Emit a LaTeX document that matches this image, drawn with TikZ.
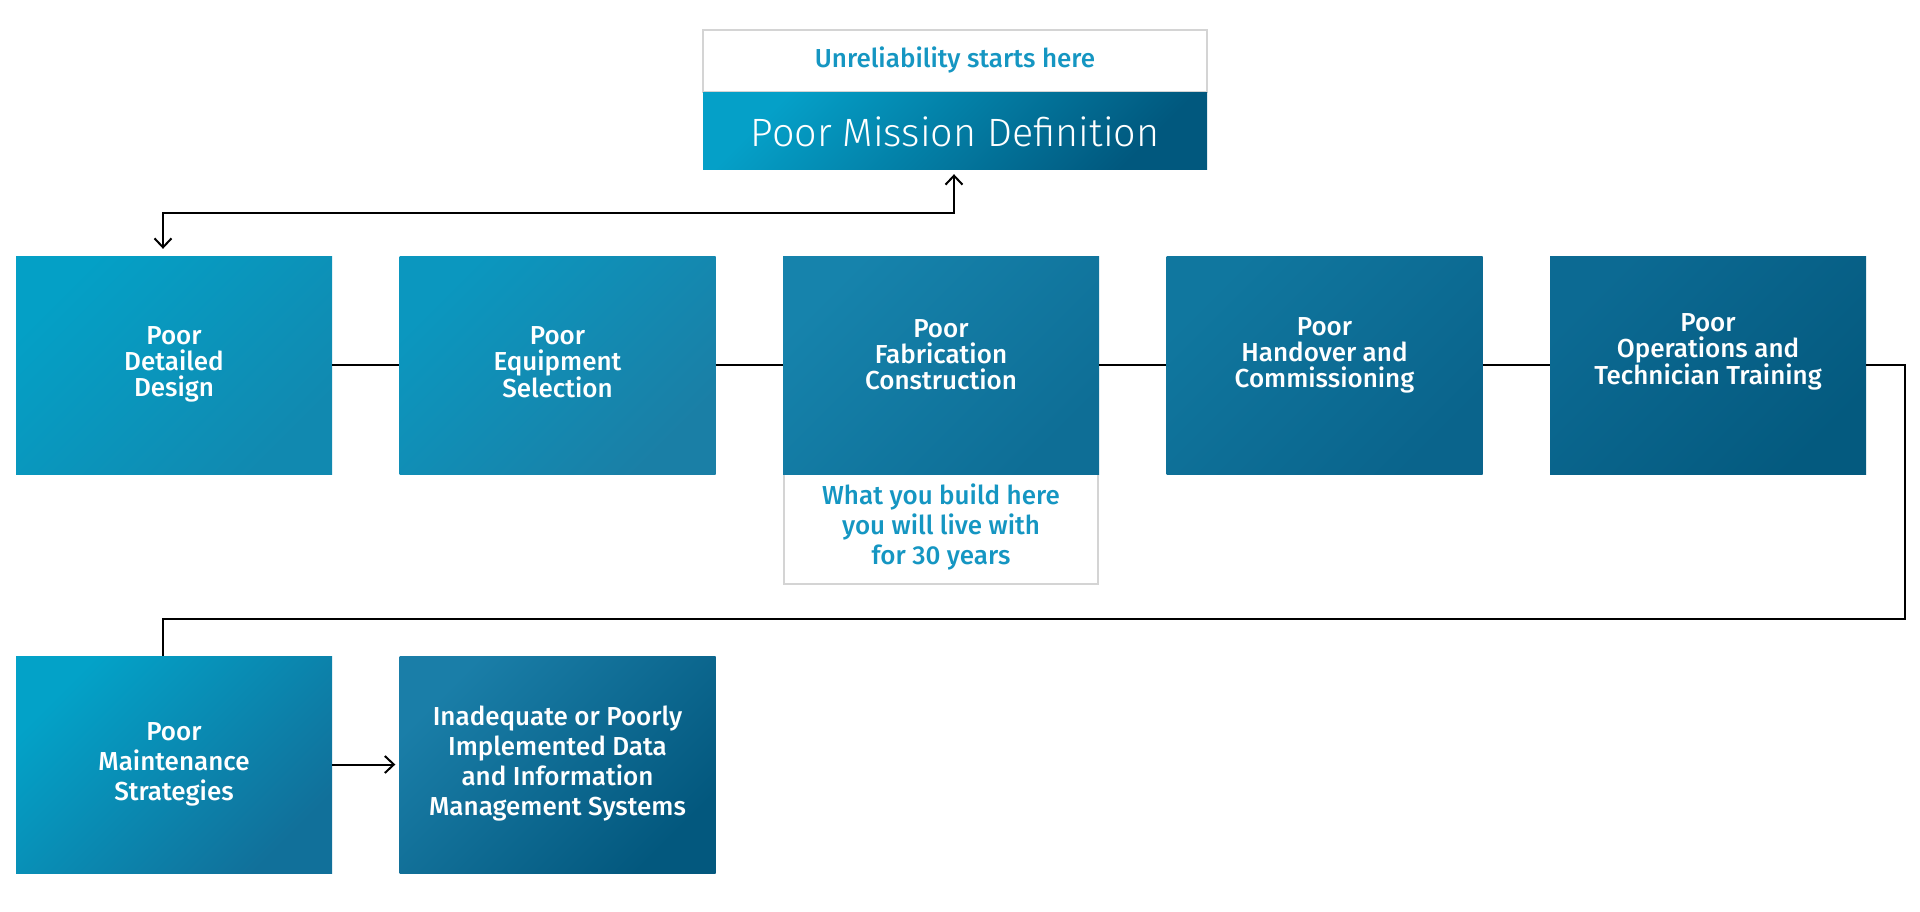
\documentclass[tikz,border=0pt]{standalone}
\usepackage{fontspec}
\setmainfont{Fira Sans}
\newfontfamily\lightfont{Fira Sans Light}
\newfontfamily\medfont{Fira Sans Medium}
\usetikzlibrary{arrows.meta}
\definecolor{tealtxt}{HTML}{1596C2}
\definecolor{graybd}{HTML}{D4D4D4}
\definecolor{b1a}{HTML}{04A0C6}\definecolor{b1b}{HTML}{1189B0}
\definecolor{b2a}{HTML}{0B97BF}\definecolor{b2b}{HTML}{1A7FA6}
\definecolor{b3a}{HTML}{1683AC}\definecolor{b3b}{HTML}{0E6E96}
\definecolor{b4a}{HTML}{10779F}\definecolor{b4b}{HTML}{0A648C}
\definecolor{b5a}{HTML}{0C6A93}\definecolor{b5b}{HTML}{045A7F}
\definecolor{b6a}{HTML}{03A2C8}\definecolor{b6b}{HTML}{11709A}
\definecolor{b7a}{HTML}{1A7EA8}\definecolor{b7b}{HTML}{03587E}
\definecolor{mba}{HTML}{05A0C8}\definecolor{mbb}{HTML}{01587E}
\begin{document}
\begin{tikzpicture}[x=1pt,y=-1pt,
  box/.style={rectangle, inner sep=0pt, draw=none, minimum width=316pt, minimum height=218pt},
  grad/.style 2 args={top color=#1, bottom color=#2, shading angle=45},
  boxtext/.style={text=white, align=center, font=\medfont\fontsize{26}{26}\selectfont},
  notebox/.style={rectangle, inner sep=0pt, draw=graybd, line width=1.5pt, fill=white},
  notetext/.style={text=tealtxt, align=center, font=\medfont\fontsize{26}{30}\selectfont},
  conn/.style={draw=black, line width=2pt},
  barb/.style={Straight Barb[length=9pt,width=17pt]},
  tip/.style={-{Straight Barb[length=9pt,width=17pt]}}
]
\useasboundingbox (0,0) rectangle (1920,911);

% top mission box
\node[notebox, minimum width=504pt, minimum height=62pt] (mw) at (955,61) {};
\node[notetext] (mwt) at (955,60) {Unreliability starts here};
\node[rectangle, inner sep=0pt, minimum width=504pt, minimum height=77pt, grad={mba}{mbb}] (mb) at (955,130.5) {};
\node[text=white, font=\lightfont\fontsize{39.5}{42}\selectfont] (mbt) at (955,132) {Poor Mission Definition};

% note under fabrication
\node[notebox, minimum width=314pt, minimum height=110pt] (wb) at (941,529) {};
\node[notetext] (wbt) at (941,527) {What you build here\\you will live with\\for 30 years};

% boxes
\node[box, grad={b1a}{b1b}] (b1) at (174,365) {};
\node[box, grad={b2a}{b2b}] (b2) at (557.5,365) {};
\node[box, grad={b3a}{b3b}] (b3) at (941,365) {};
\node[box, grad={b4a}{b4b}] (b4) at (1324.5,365) {};
\node[box, grad={b5a}{b5b}] (b5) at (1708,365) {};
\node[box, minimum height=217pt, grad={b6a}{b6b}] (b6) at (174,764.5) {};
\node[box, minimum height=217pt, grad={b7a}{b7b}] (b7) at (557.5,764.5) {};

\node[boxtext] (t1) at (174,364) {Poor\\Detailed\\Design};
\node[boxtext] (t2) at (557.5,362) {Poor\\Equipment\\Selection};
\node[boxtext] (t3) at (941,355) {Poor\\Fabrication\\Construction};
\node[boxtext] (t4) at (1324.5,355) {Poor\\Handover and\\Commissioning};
\node[boxtext] (t5) at (1708,352) {Poor\\Operations and\\Technician Training};
\node[boxtext, font=\medfont\fontsize{26}{30}\selectfont] (t6) at (174,764) {Poor\\Maintenance\\Strategies};
\node[boxtext, font=\medfont\fontsize{26}{30}\selectfont] (t7) at (557.5,764) {Inadequate or Poorly\\Implemented Data\\and Information\\Management Systems};

% connectors
\coordinate (ca) at (163,213);
\coordinate (cr) at (1905,619);
\coordinate (cl) at (163,619);
\draw[conn, {Straight Barb[length=9pt,width=17pt]}-{Straight Barb[length=9pt,width=17pt]}, shorten <=5pt, shorten >=7pt] ([xshift=-1pt]mb.south) |- (ca) -- (ca |- b1.north);
\draw[conn] (b1.east) -- (b2.west);
\draw[conn] (b2.east) -- (b3.west);
\draw[conn] (b3.east) -- (b4.west);
\draw[conn] (b4.east) -- (b5.west);
\draw[conn] (b5.east) -| (cr) -- (cl) -- (cl |- b6.north);
\draw[conn, tip, shorten >=4pt] (b6.east) -- (b7.west);
\end{tikzpicture}
\end{document}
